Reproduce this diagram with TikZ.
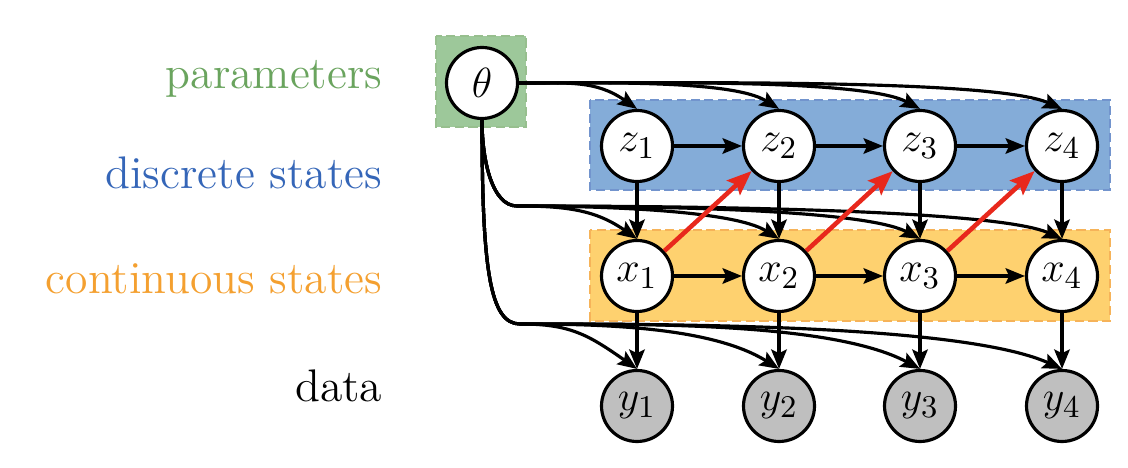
\documentclass[tikz,border=0pt]{standalone}
\usepackage{amsmath,amssymb}
\usepackage{xcolor}
\usetikzlibrary{arrows.meta}
\definecolor{pargreen}{RGB}{106,164,94}
\definecolor{disblue}{RGB}{53,102,184}
\definecolor{conorange}{RGB}{244,160,48}
\definecolor{boxgreen}{RGB}{157,200,154}
\definecolor{boxblue}{RGB}{132,172,216}
\definecolor{boxorange}{RGB}{254,209,111}
\definecolor{arrred}{RGB}{232,40,28}

\begin{document}
\begin{tikzpicture}[x=0.1mm,y=-0.1mm,
	var/.style={circle,draw,line width=0.9pt,fill=white,minimum size=7.1mm,inner sep=0pt,font=\fontsize{12.5}{14}\selectfont},
	obs/.style={var,fill=black!25},
	arr/.style={-{Stealth[length=5.5pt,width=4.4pt,inset=1pt]},line width=0.9pt},
	redarr/.style={-{Stealth[length=7pt,width=5.5pt,inset=1.2pt]},line width=1.3pt,draw=arrred},
	lab/.style={anchor=base east,inner sep=0pt,font=\fontsize{13}{15}\selectfont},
	plate/.style={dashed,dash pattern=on 2.6pt off 1.3pt,line width=0.5pt}]
	\useasboundingbox (0,0) rectangle (1128,468);
	
	% shaded groups
	\draw[plate,fill=boxgreen,draw=pargreen!70] (436,36) rectangle (526,127);
	\draw[plate,fill=boxblue,draw=disblue!70] (590,100) rectangle (1110,190);
	\draw[plate,fill=boxorange,draw=conorange!80] (590,230) rectangle (1110,321);
	
	% labels
	\node[lab,text=pargreen] (lpar) at (383,89) {parameters};
	\node[lab,text=disblue] (ldis) at (383,189) {discrete states};
	\node[lab,text=conorange] (lcon) at (383,294) {continuous states};
	\node[lab] (ldat) at (383,402) {data};
	
	% variables
	\node[var] (theta) at (482,83) {$\theta$};
	\foreach \i/\x in {1/637,2/779,3/920,4/1062}{
		\node[var] (z\i) at (\x,146) {$z_{\i}$};
		\node[var] (x\i) at (\x,276) {$x_{\i}$};
		\node[obs] (y\i) at (\x,406) {$y_{\i}$};
	}
	\coordinate (xturn) at (517,206);
	\coordinate (yturn) at (520,324);
	
	% dependencies
	\foreach \i/\a/\o/\n/\m in {1/145/5/5/6,2/148/8/5.5/8,3/152/12/6.5/10,4/156/15/7.5/11}{
		\draw[arr] (theta.east) to[out=0,in=\a,out distance=\o mm,in distance=\n mm] (z\i.north);
		\draw[arr] (theta.south) to[out=-90,in=180,out distance=4mm,in distance=2.5mm] (xturn)
			to[out=0,in=\a,out distance=\o mm,in distance=\n mm] (x\i.north);
		\draw[arr] (theta.south) to[out=-90,in=180,out distance=15mm,in distance=3mm] (yturn)
			to[out=0,in=\a,out distance=\o mm,in distance=\m mm] (y\i.north);
		\draw[arr] (z\i) -- (x\i);
		\draw[arr] (x\i) -- (y\i);
	}
	\foreach \a/\b in {1/2,2/3,3/4}{
		\draw[arr] (z\a) -- (z\b);
		\draw[arr] (x\a) -- (x\b);
		\draw[redarr] (x\a) -- (z\b);
	}
\end{tikzpicture}
\end{document}
